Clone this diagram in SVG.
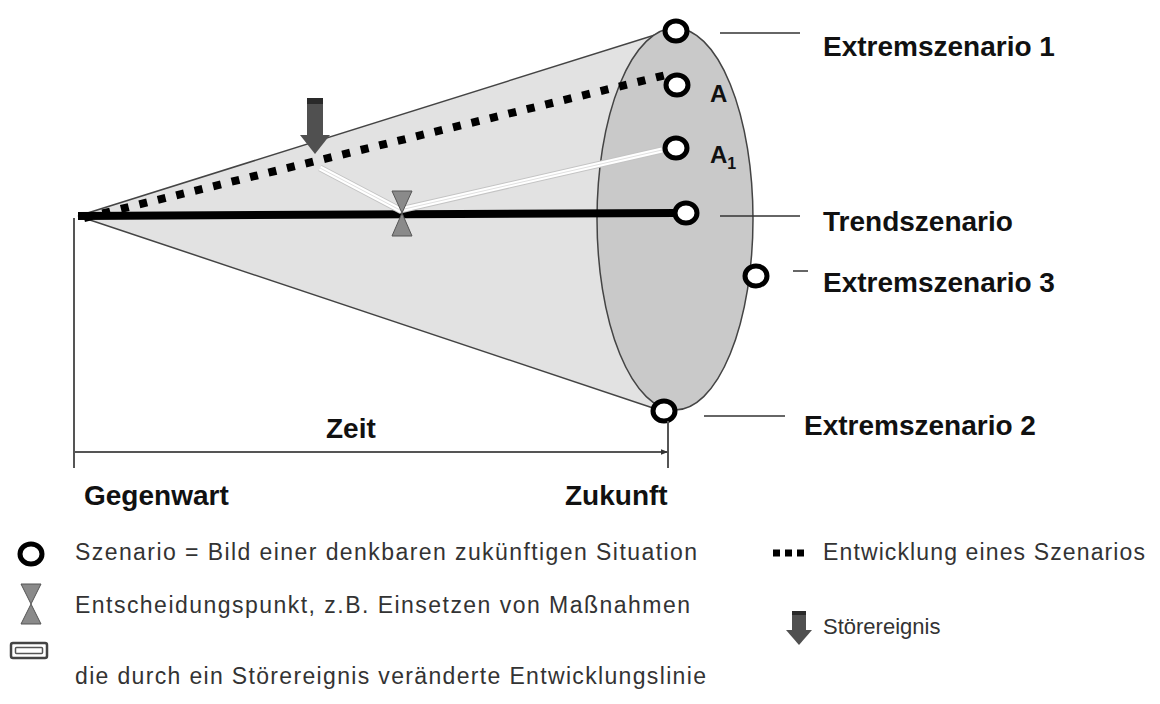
<svg xmlns="http://www.w3.org/2000/svg" width="1160" height="704" viewBox="0 0 1160 704">
<style>
.lbl{font-family:"Liberation Sans",Arial,sans-serif;font-weight:bold;font-size:28px;fill:#111}
.leg{font-family:"Liberation Sans",Arial,sans-serif;font-size:23px;fill:#333}
.scn{fill:#fff;stroke:#000;stroke-width:5}
.lead{stroke:#333;stroke-width:1.5}
.axis{stroke:#555;stroke-width:2;fill:none}
.hg{fill:#8a8a8a;stroke:#555;stroke-width:1}
.arrow{fill:#505050}
</style>
<defs>
<marker id="ah" viewBox="0 0 10 10" refX="10" refY="5" markerWidth="7" markerHeight="7" orient="auto" markerUnits="userSpaceOnUse">
<path d="M0,1 L10,5 L0,9 z" fill="#333"/>
</marker>
</defs>
<rect width="1160" height="704" fill="#fff"/>
<g id="cone">
<polygon points="78,216 674,29 660,410" fill="#e2e2e2" stroke="none"/>
<line x1="78" y1="216" x2="674" y2="29" stroke="#444" stroke-width="1.5"/>
<line x1="78" y1="216" x2="656" y2="409" stroke="#444" stroke-width="1.5"/>
<ellipse cx="675" cy="219" rx="78" ry="191" fill="#c9c9c9" stroke="#444" stroke-width="1.5"/>
</g>
<g id="connectors">
<line x1="84" y1="218" x2="666" y2="75" stroke="#000" stroke-width="8" stroke-dasharray="8 11"/>
<line x1="78" y1="216" x2="676" y2="213" stroke="#000" stroke-width="8"/>
<polyline points="320,168 400,210 662,150" fill="none" stroke="#c4c4c4" stroke-width="7"/>
<polyline points="320,168 400,210 662,150" fill="none" stroke="#fff" stroke-width="5"/>
<polyline points="320,168 400,210 662,150" fill="none" stroke="#e0e0e0" stroke-width="1"/>
<line class="lead" x1="720" y1="33" x2="800" y2="33"/>
<line class="lead" x1="720" y1="216" x2="800" y2="216"/>
<line class="lead" x1="793" y1="271" x2="808" y2="271"/>
<line class="lead" x1="704" y1="416" x2="785" y2="416"/>
</g>
<g id="decision">
<polygon class="hg" points="392,191 412,191 402,213"/>
<polygon class="hg" points="402,213 392,236 412,236"/>
</g>
<g id="stoerereignis">
<rect class="arrow" x="307" y="98" width="16" height="38"/>
<rect x="307" y="98" width="16" height="6" fill="#2a2a2a"/>
<polygon class="arrow" points="300,135 330,135 315,154"/>
</g>
<g id="s-extrem1"><ellipse class="scn" cx="676" cy="31" rx="11" ry="10"/><text class="lbl" x="823" y="56">Extremszenario 1</text></g>
<g id="s-A"><ellipse class="scn" cx="677" cy="85" rx="11" ry="10"/><text class="lbl" x="710" y="102" style="font-size:24px">A</text></g>
<g id="s-A1"><ellipse class="scn" cx="676" cy="148" rx="11" ry="10"/><text class="lbl" x="710" y="163" style="font-size:24px">A<tspan dy="6" style="font-size:16px">1</tspan></text></g>
<g id="s-trend"><ellipse class="scn" cx="686" cy="213" rx="11" ry="10"/><text class="lbl" x="823" y="231">Trendszenario</text></g>
<g id="s-extrem3"><ellipse class="scn" cx="756" cy="276" rx="11" ry="10"/><text class="lbl" x="823" y="292">Extremszenario 3</text></g>
<g id="s-extrem2"><ellipse class="scn" cx="664" cy="411" rx="11" ry="10"/><text class="lbl" x="804" y="435">Extremszenario 2</text></g>
<g id="axis">
<line class="axis" x1="74" y1="218" x2="74" y2="468"/>
<line class="axis" x1="668" y1="421" x2="668" y2="468"/>
<line class="axis" x1="74" y1="452" x2="668" y2="452" marker-end="url(#ah)"/>
<text class="lbl" x="326" y="438">Zeit</text>
<text class="lbl" x="84" y="505">Gegenwart</text>
<text class="lbl" x="565" y="505">Zukunft</text>
</g>
<g id="legend">
<ellipse class="scn" cx="31" cy="554" rx="11" ry="10"/>
<text class="leg" x="75" y="560" textLength="622" lengthAdjust="spacing">Szenario = Bild einer denkbaren zukünftigen Situation</text>
<polygon class="hg" points="21,584 41,584 31,604"/>
<polygon class="hg" points="31,604 21,624 41,624"/>
<text class="leg" x="75" y="613" textLength="615" lengthAdjust="spacing">Entscheidungspunkt, z.B. Einsetzen von Maßnahmen</text>
<rect x="11" y="643" width="36" height="15" rx="2" fill="#fff" stroke="#444" stroke-width="2.5"/>
<rect x="15.5" y="647.5" width="27" height="6" rx="1" fill="#fff" stroke="#555" stroke-width="1.5"/>
<text class="leg" x="75" y="684" textLength="631" lengthAdjust="spacing">die durch ein Störereignis veränderte Entwicklungslinie</text>
<line x1="773" y1="553" x2="808" y2="553" stroke="#000" stroke-width="7" stroke-dasharray="7 5"/>
<text class="leg" x="823" y="560" textLength="322" lengthAdjust="spacing">Entwicklung eines Szenarios</text>
<rect class="arrow" x="792" y="611" width="14" height="20"/>
<rect x="792" y="611" width="14" height="4" fill="#2a2a2a"/>
<polygon class="arrow" points="786,630 812,630 799,645"/>
<text class="leg" x="823" y="634" style="font-size:22px">Störereignis</text>
</g>
</svg>
